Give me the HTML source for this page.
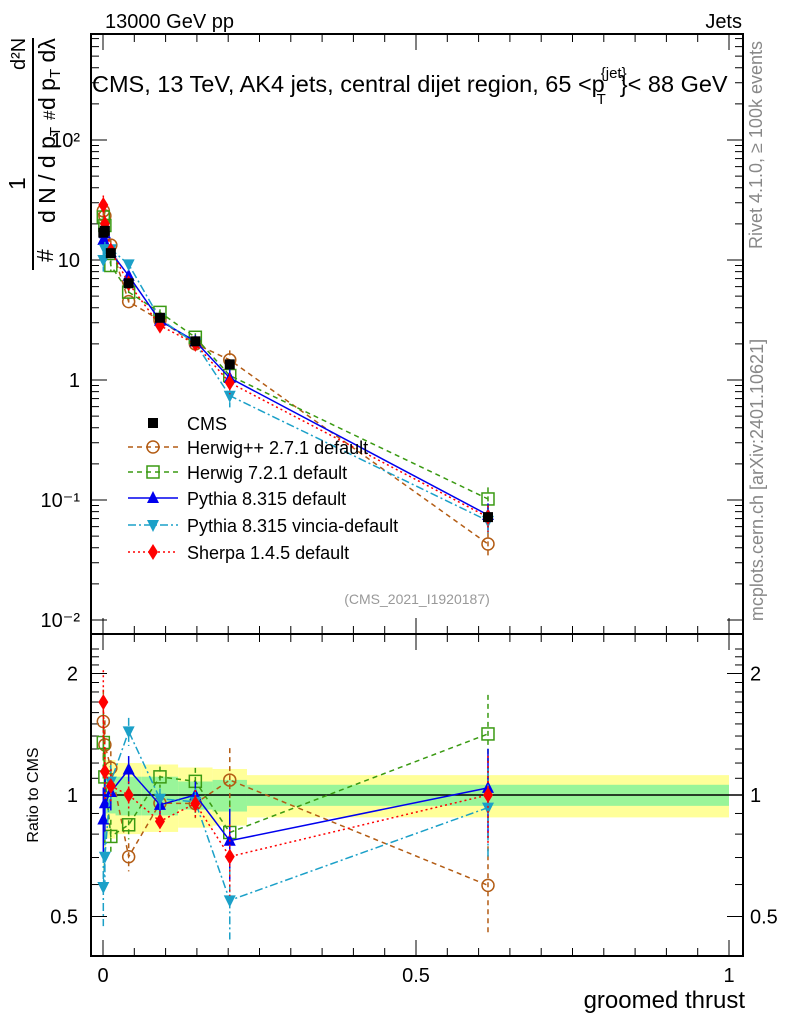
<!DOCTYPE html>
<html><head><meta charset="utf-8"><style>
body{margin:0;background:#fff}
svg{display:block;font-family:"Liberation Sans",sans-serif}
</style></head><body>
<svg id="s" width="786" height="1024" viewBox="0 0 786 1024">
<rect width="786" height="1024" fill="#fff"/>
<g id="bands"></g>
<g id="axes"></g>
<g id="series"></g>
<text x="105" y="28" font-size="20">13000 GeV pp</text>
<text x="742" y="28" font-size="20" text-anchor="end">Jets</text>
<text x="92" y="92" font-size="23.5">CMS, 13 TeV, AK4 jets, central dijet region, 65 &lt;p<tspan font-size="15" dy="-14" dx="-4">{jet}</tspan><tspan font-size="15" dy="26" dx="-30">T</tspan><tspan dy="-12" dx="14">}&lt; 88 GeV</tspan></text>
<text transform="translate(762,145) rotate(-90)" font-size="18" fill="#888" text-anchor="middle">Rivet 4.1.0, ≥ 100k events</text>
<text transform="translate(763,480) rotate(-90)" font-size="18" fill="#888" text-anchor="middle">mcplots.cern.ch [arXiv:2401.10621]</text>
<text x="417" y="604" font-size="14" fill="#999" text-anchor="middle">(CMS_2021_I1920187)</text>
<g transform="translate(33,150) rotate(-90)" font-size="23">
<line x1="-120" x2="112" y1="0" y2="0" stroke="#000" stroke-width="2"/>
<text x="-25" y="22" text-anchor="middle">d N / d p<tspan font-size="15" dy="5">T</tspan></text>
<text x="-40" y="-8">1</text>
<text x="-112" y="20">#</text>
<text x="30" y="22" font-size="17">#</text>
<text x="40" y="22">d p<tspan font-size="15" dy="5">T</tspan><tspan dy="-5"> d</tspan>λ</text>
<text x="80" y="-8" font-size="20">d²N</text>
</g>
<text transform="translate(38,795) rotate(-90)" font-size="16" text-anchor="middle">Ratio to CMS</text>
<text x="745" y="1008" font-size="24" text-anchor="end">groomed thrust</text>
<g id="legend"></g>
</svg>
<script>
const edges=[0,0.001,0.005,0.02,0.062,0.12,0.175,0.23,1.0];
const xCenters=[0.0005,0.003,0.0125,0.041,0.091,0.1475,0.2025,0.615];
const cmsVals=[16.9,17.5,11.4,6.4,3.3,2.1,1.35,0.072];
const bandYellow=[0.35,0.3,0.22,0.2,0.19,0.17,0.16,0.12];
const bandGreen=[0.2,0.15,0.1,0.11,0.11,0.08,0.09,0.06];
const herwigPP=[25.7,23.3,13.3,4.5,3.15,2.0,1.47,0.043];
const herwig7=[22.8,19.4,9.0,5.4,3.66,2.27,1.09,0.102];
const pythia=[14.7,16.7,11.6,7.4,3.12,2.1,1.04,0.075];
const vincia=[10.0,12.3,12.3,9.2,3.23,2.02,0.74,0.067];
const sherpa=[28.7,20.0,12.0,6.4,2.84,2.0,0.95,0.072];
const relErr=[0.2,0.15,0.1,0.08,0.06,0.08,0.2,0.25];
const mainTicks=[100,10,1,0.1,0.01];
const mainTickLabels=["10²","10","1","10⁻¹","10⁻²"];
const ratioTicks=[2,1,0.5];
const ratioTickLabels=["2","1","0.5"];
const xTicks=[0,0.5,1];
const xTickLabels=["0","0.5","1"];

const NS="http://www.w3.org/2000/svg";
const L=91,R=743,T=34,MB=634,RB=956;
const X=v=>103+626*v;
const Y=v=>380-120*Math.log10(v);
const RY=v=>795-121.5*Math.log2(v);
function mk(tag,parent,attrs){const e=document.createElementNS(NS,tag);for(const k in attrs)e.setAttribute(k,attrs[k]);parent.appendChild(e);return e;}
const axes=document.getElementById('axes'),bands=document.getElementById('bands'),ser=document.getElementById('series'),leg=document.getElementById('legend');

for(let i=0;i<cmsVals.length;i++){
 let r=mk('rect',bands,{x:X(edges[i]),width:X(edges[i+1])-X(edges[i]),y:RY(1+bandYellow[i]),height:RY(1-bandYellow[i])-RY(1+bandYellow[i]),fill:'#ffff99'});
 
 
 let g=mk('rect',bands,{x:X(edges[i]),width:X(edges[i+1])-X(edges[i]),y:RY(1+bandGreen[i]),height:RY(1-bandGreen[i])-RY(1+bandGreen[i]),fill:'#99f599'});
 
 
}
let f1=mk('rect',axes,{x:L,y:T,width:R-L,height:MB-T,fill:'none',stroke:'#000','stroke-width':2});


let f2=mk('rect',axes,{x:L,y:MB,width:R-L,height:RB-MB,fill:'none',stroke:'#000','stroke-width':2});


let one=mk('line',axes,{x1:L,x2:R,y1:RY(1),y2:RY(1),stroke:'#000','stroke-width':1.5});


for(let d=-2;d<=2;d++){for(let m=1;m<10;m++){const v=m*Math.pow(10,d);const y=Y(v);if(y<T||y>MB)continue;const len=m==1?16:8;
 mk('line',axes,{x1:L,x2:L+len,y1:y,y2:y,stroke:'#000'});mk('line',axes,{x1:R,x2:R-len,y1:y,y2:y,stroke:'#000'});}}
mainTicks.forEach((v,i)=>{let t=mk('text',axes,{x:80,y:Y(v)+7,'font-size':20,'text-anchor':'end'});t.textContent=mainTickLabels[i];
 
 });
for(let v=0.4;v<=2.4;v+=0.1){const y=RY(v);if(y<MB||y>RB)continue;const maj=Math.abs(v-1)<1e-6||Math.abs(v-2)<1e-6||Math.abs(v-0.5)<1e-6;const len=maj?16:8;
 mk('line',axes,{x1:L,x2:L+len,y1:y,y2:y,stroke:'#000'});mk('line',axes,{x1:R,x2:R-len,y1:y,y2:y,stroke:'#000'});}
ratioTicks.forEach((v,i)=>{let t=mk('text',axes,{x:78,y:RY(v)+7,'font-size':20,'text-anchor':'end'});t.textContent=ratioTickLabels[i];
 
 
 let t2=mk('text',axes,{x:750,y:RY(v)+7,'font-size':20});t2.textContent=ratioTickLabels[i];
 
 });
for(let k=0;k<=20;k++){const v=k*0.05;const x=X(v);const len=(k%10==0)?16:8;
 [[T,1],[MB,-1],[MB,1],[RB,-1]].forEach(([y0,s])=>mk('line',axes,{x1:x,x2:x,y1:y0,y2:y0+s*len,stroke:'#000'}));}
xTicks.forEach((v,i)=>{let t=mk('text',axes,{x:X(v),y:982,'font-size':20,'text-anchor':'middle'});t.textContent=xTickLabels[i];
 
 });

function marker(p,shape,x,y,c){
 if(shape=='sq')return mk('rect',p,{x:x-5,y:y-5,width:10,height:10,fill:'#000'});
 if(shape=='osq')return mk('rect',p,{x:x-6,y:y-6,width:12,height:12,fill:'none',stroke:c,'stroke-width':1.5});
 if(shape=='oc')return mk('circle',p,{cx:x,cy:y,r:6,fill:'none',stroke:c,'stroke-width':1.5});
 if(shape=='tu')return mk('polygon',p,{points:`${x},${y-7} ${x-6},${y+5} ${x+6},${y+5}`,fill:c});
 if(shape=='td')return mk('polygon',p,{points:`${x},${y+7} ${x-6},${y-5} ${x+6},${y-5}`,fill:c});
 if(shape=='dm')return mk('polygon',p,{points:`${x},${y-8} ${x-5},${y} ${x},${y+8} ${x+5},${y}`,fill:c});
}
const series=[
 {name:'Herwig++ 2.7.1 default',vals:herwigPP,c:'#b35c14',dash:'5,4',shape:'oc'},
 {name:'Herwig 7.2.1 default',vals:herwig7,c:'#3a9a12',dash:'5,4',shape:'osq'},
 {name:'Pythia 8.315 default',vals:pythia,c:'#0000ee',dash:'',shape:'tu'},
 {name:'Pythia 8.315 vincia-default',vals:vincia,c:'#1ba0c8',dash:'8,3,2,3',shape:'td'},
 {name:'Sherpa 1.4.5 default',vals:sherpa,c:'#ff0000',dash:'2,3',shape:'dm'}];
series.forEach((s,si)=>{
 const g=mk('g',ser,{});
 
 
 const pm=s.vals.map((v,i)=>`${X(xCenters[i])},${Y(v)}`).join(' ');
 mk('polyline',g,{points:pm,fill:'none',stroke:s.c,'stroke-width':1.5,'stroke-dasharray':s.dash});
 const pr=s.vals.map((v,i)=>`${X(xCenters[i])},${RY(v/cmsVals[i])}`).join(' ');
 mk('polyline',g,{points:pr,fill:'none',stroke:s.c,'stroke-width':1.5,'stroke-dasharray':s.dash});
 s.vals.forEach((v,i)=>{const x=X(xCenters[i]);const e=relErr[i];
  mk('line',g,{x1:x,x2:x,y1:Y(v*(1+e)),y2:Y(v*(1-e)),stroke:s.c,'stroke-width':1.5,'stroke-dasharray':s.dash});
  const r=v/cmsVals[i];
  mk('line',g,{x1:x,x2:x,y1:Math.max(MB,RY(r*(1+e))),y2:Math.min(RB,RY(r*(1-e))),stroke:s.c,'stroke-width':1.5,'stroke-dasharray':s.dash});
  let m1=marker(g,s.shape,x,Y(v),s.c);
  
  
  let m2=marker(g,s.shape,x,RY(r),s.c);
  
  
 });
});
const cg=mk('g',ser,{});


cmsVals.forEach((v,i)=>{let m=marker(cg,'sq',X(xCenters[i]),Y(v),'#000');
 
 });
const ly=[423,447,472,498,525,552];
let lt=marker(leg,'sq',153,ly[0],'#000');


let tx=mk('text',leg,{x:187,y:ly[0]+7,'font-size':18});tx.textContent='CMS';


series.forEach((s,i)=>{const y=ly[i+1];
 mk('line',leg,{x1:128,x2:178,y1:y,y2:y,stroke:s.c,'stroke-width':1.5,'stroke-dasharray':s.dash});
 marker(leg,s.shape,153,y,s.c);
 let t=mk('text',leg,{x:187,y:y+7,'font-size':18});t.textContent=s.name;
 
 
});
</script>
</body></html>
